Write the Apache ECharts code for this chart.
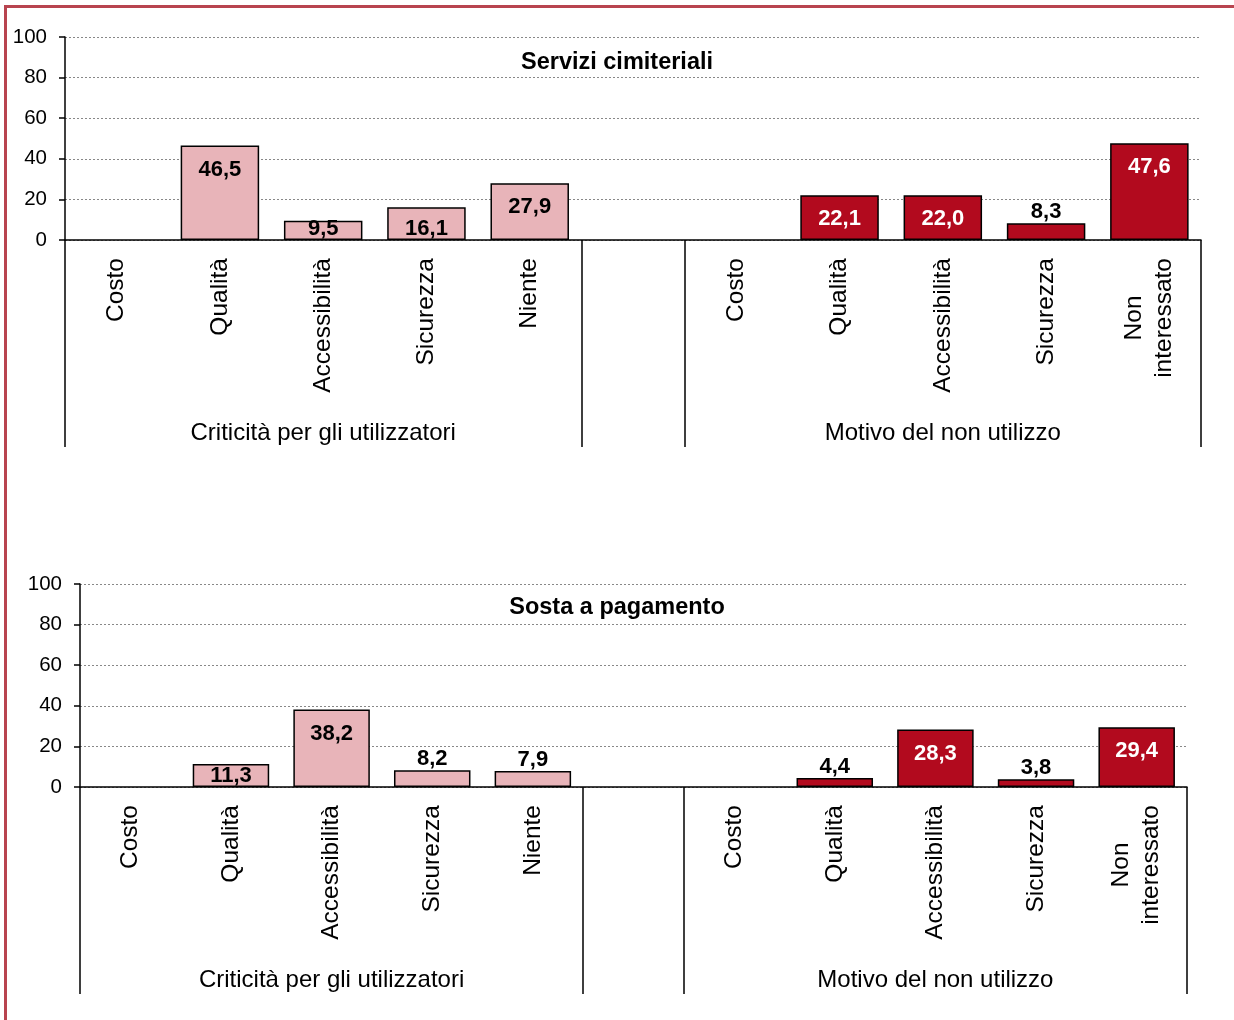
<!DOCTYPE html>
<html><head><meta charset="utf-8">
<script src="https://cdn.jsdelivr.net/npm/echarts@6/dist/echarts.min.js"></script>
<style>
html,body{margin:0;padding:0;background:#fff}
#frame{position:absolute;left:4px;top:5px;width:1230px;height:1015px;border-top:3px solid #b8444f;border-left:3px solid #b8444f;box-sizing:border-box}
#chart{position:absolute;left:0;top:0;width:1234px;height:1020px}
</style></head><body><div id="frame"></div><div id="chart"></div>
<script>
const categories = ['Costo','Qualità','Accessibilità','Sicurezza','Niente','','Costo','Qualità','Accessibilità','Sicurezza','Non\ninteressato'];
const groupLabels = ['Criticità per gli utilizzatori','Motivo del non utilizzo'];
const panelTitles = ['Servizi cimiteriali','Sosta a pagamento'];
const yTicks = [0,20,40,60,80,100];
const cimiterialiCriticita = [null,46.5,9.5,16.1,27.9];
const cimiterialiMotivo = [null,22.1,22.0,8.3,47.6];
const sostaCriticita = [null,11.3,38.2,8.2,7.9];
const sostaMotivo = [null,4.4,28.3,3.8,29.4];

const FONT = 'Arial, "Liberation Sans", sans-serif';
const PINK = '#e8b4b9';
const RED = '#b20a1e';
const fmt = v => v.toFixed(1).replace('.', ',');

function labelFor(v, isRed) {
  if (v == null) return {show:false};
  const base = {show:true, formatter: () => fmt(v), fontSize:22, fontWeight:'bold', fontFamily:FONT, lineHeight:22};
  if (v >= 20) return Object.assign(base, {position:'insideTop', distance:13, color: isRed ? '#fff' : '#000'});
  if (v >= 9) return Object.assign(base, {position:'insideBottom', distance:0, color: isRed ? '#fff' : '#000'});
  return Object.assign(base, {position:'top', distance:0, color:'#000'});
}
function buildData(left, right, side) {
  const arr = side === 'left'
    ? left.concat([null,null,null,null,null,null])
    : [null,null,null,null,null,null].concat(right);
  return arr.map(v => ({value: v == null ? '-' : v, label: labelFor(v, side === 'right')}));
}

const panels = [
  {title: panelTitles[0], left: cimiterialiCriticita, right: cimiterialiMotivo, grid:{left:65, right:33, top:37, height:203}, titleTop:46},
  {title: panelTitles[1], left: sostaCriticita, right: sostaMotivo, grid:{left:80, right:47, top:584, height:203}, titleTop:591}
];

const option = {
  animation:false,
  textStyle:{fontFamily:FONT},
  title: panels.map(p => ({text:p.title, left:'center', top:p.titleTop, textStyle:{fontSize:23.5, fontWeight:'bold', color:'#000', fontFamily:FONT}})),
  grid: panels.map(p => p.grid),
  xAxis: [],
  yAxis: [],
  series: []
};
panels.forEach((p, i) => {
  option.xAxis.push({
    type:'category', gridIndex:i, data:categories,
    axisLine:{lineStyle:{color:'#000', width:1.5}},
    axisTick:{show:false},
    axisLabel:{interval:0, rotate:90, margin:18, color:'#000', fontSize:24.5, fontFamily:FONT,
      formatter: v => v === '' ? '' : v.split('\n').map(s => '{c|' + s + '}').join('\n'),
      rich:{c:{align:'center', fontSize:24.5, lineHeight:30, color:'#000', fontFamily:FONT}}}
  });
  option.xAxis.push({
    type:'value', gridIndex:i, min:0, max:11, position:'bottom',
    axisLine:{show:false}, splitLine:{show:false},
    axisTick:{show:true, customValues:[0,5,6,11], length:207, lineStyle:{color:'#000', width:1.5}},
    axisLabel:{show:true, customValues:[2.5,8.5], margin:181, fontSize:24, color:'#000', fontFamily:FONT,
      formatter: v => v < 5 ? groupLabels[0] : groupLabels[1]}
  });
  option.yAxis.push({
    type:'value', gridIndex:i, min:yTicks[0], max:yTicks[yTicks.length-1], interval:20,
    axisLine:{show:true, lineStyle:{color:'#000', width:1.5}},
    axisTick:{show:true, length:6, lineStyle:{color:'#000', width:1.5}},
    axisLabel:{fontSize:20.5, color:'#000', margin:18, fontFamily:FONT},
    splitLine:{lineStyle:{color:'#888', type:[2,2], width:1}}
  });
  ['left','right'].forEach(side => {
    option.series.push({
      type:'bar', xAxisIndex:i*2, yAxisIndex:i,
      barWidth:'76%', barGap:'-100%',
      itemStyle:{color: side === 'left' ? PINK : RED, borderColor:'#000', borderWidth:1.5},
      data: buildData(p.left, p.right, side)
    });
  });
});

const chart = echarts.init(document.getElementById('chart'), null, {renderer:'canvas'});
chart.setOption(option);
</script></body></html>
